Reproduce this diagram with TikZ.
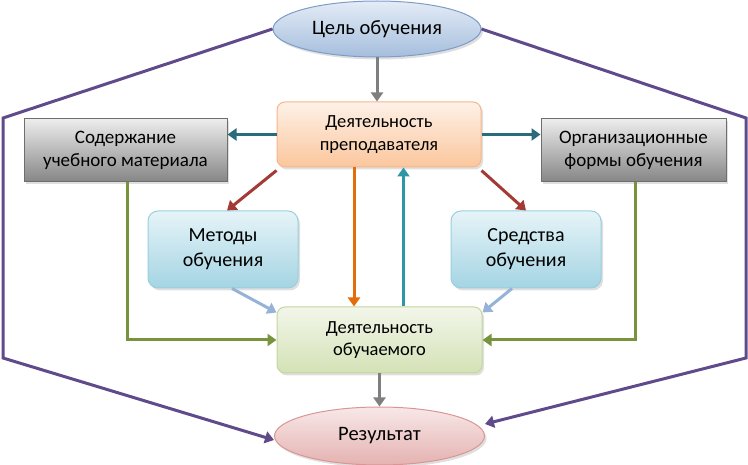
\documentclass[tikz,border=0pt]{standalone}
\usepackage{fontspec}
\setmainfont{Carlito}
\usetikzlibrary{arrows.meta,shadows,shapes.geometric}
\definecolor{purp}{HTML}{5F4B8B}
\definecolor{tealdk}{HTML}{2B6C7C}
\definecolor{teallt}{HTML}{2F96A3}
\definecolor{redk}{HTML}{A33A35}
\definecolor{orng}{HTML}{E46C0A}
\definecolor{ltblue}{HTML}{95B3D7}
\definecolor{grn}{HTML}{77933C}
\definecolor{gry}{HTML}{7F7F7F}
% fills
\definecolor{goalT}{HTML}{E4ECF6}\definecolor{goalB}{HTML}{A5BEDD}\definecolor{goalD}{HTML}{7E9CC8}
\definecolor{teaT}{HTML}{FEF1E8}\definecolor{teaB}{HTML}{FBC69C}\definecolor{teaD}{HTML}{F6B68A}
\definecolor{grT}{HTML}{EDEDED}\definecolor{grB}{HTML}{858585}\definecolor{grD}{HTML}{6E6E6E}
\definecolor{cyT}{HTML}{E6F4F8}\definecolor{cyB}{HTML}{A4D4E3}\definecolor{cyD}{HTML}{9ACFDD}
\definecolor{gnT}{HTML}{F2F6EA}\definecolor{gnB}{HTML}{D4E2B6}\definecolor{gnD}{HTML}{C3D69B}
\definecolor{rsT}{HTML}{F8E8E8}\definecolor{rsB}{HTML}{E4B2B1}\definecolor{rsD}{HTML}{D99694}
\tikzset{
  base/.style={align=center, inner sep=2pt, line width=1pt,
    drop shadow={opacity=0.25, shadow xshift=2pt, shadow yshift=-2.5pt}},
  fA/.style={font=\fontsize{20.5}{25}\selectfont},
  fB/.style={font=\fontsize{20}{25}\selectfont},
  fC/.style={font=\fontsize{19}{23}\selectfont},
  fD/.style={font=\fontsize{18.5}{22.5}\selectfont},
  conn/.style={line width=3pt, -{Triangle[length=9pt,width=12pt]}},
}
\begin{document}
\begin{tikzpicture}[x=1pt,y=-1pt]
\useasboundingbox (0,0) rectangle (748,465);
% nodes
\node[base, fA, ellipse, draw=goalD, top color=goalT, bottom color=goalB, minimum width=208pt, minimum height=56pt] (goal) at (377,29) {Цель обучения};
\node[base, fD, rectangle, rounded corners=8pt, draw=teaD, top color=teaT, bottom color=teaB, minimum width=204pt, minimum height=65pt] (teacher) at (379,134.5) {Деятельность\\преподавателя};
\node[base, fC, rectangle, draw=grD, top color=grT, bottom color=grB, minimum width=203pt, minimum height=63pt] (content) at (125.5,150.5) {Содержание\\учебного материала};
\node[base, fC, rectangle, draw=grD, top color=grT, bottom color=grB, minimum width=185pt, minimum height=63pt] (org) at (633.5,150.5) {Организационные\\формы обучения};
\node[base, fB, rectangle, rounded corners=10pt, draw=cyD, top color=cyT, bottom color=cyB, minimum width=150pt, minimum height=77pt] (methods) at (223,249.5) {Методы\\обучения};
\node[base, fB, rectangle, rounded corners=10pt, draw=cyD, top color=cyT, bottom color=cyB, minimum width=150pt, minimum height=77pt] (means) at (526,249.5) {Средства\\обучения};
\node[base, fD, rectangle, rounded corners=8pt, draw=gnD, top color=gnT, bottom color=gnB, minimum width=205pt, minimum height=66pt] (learner) at (379.5,340) {Деятельность\\обучаемого};
\node[base, fA, ellipse, draw=rsD, top color=rsT, bottom color=rsB, minimum width=210pt, minimum height=58pt] (result) at (379.5,436) {Результат};
% purple frame
\coordinate (pl1) at (3,118);
\coordinate (pl2) at (3,358);
\coordinate (pr1) at (746,118);
\coordinate (pr2) at (746,358);
\draw[conn, purp] (goal.west) -- (pl1) -- (pl2) -- ([yshift=-4pt]result.west);
\draw[conn, purp] (goal.east) -- (pr1) -- (pr2) -- ([yshift=12pt]result.east);
% connectors
\draw[conn, gry] (goal.south) -- (goal.south |- teacher.north);
\draw[conn, tealdk] (teacher.west) -- (teacher.west -| content.east);
\draw[conn, tealdk] (teacher.east) -- (teacher.east -| org.west);
\draw[conn, redk] ([yshift=-3pt]teacher.south west) -- ([xshift=4pt]methods.north);
\draw[conn, redk] ([yshift=-3pt]teacher.south east) -- (means.north);
\draw[conn, orng] ([xshift=-25pt]teacher.south) -- ([xshift=-25pt]teacher.south |- learner.north);
\draw[conn, teallt] ([xshift=24pt]learner.north) -- ([xshift=24pt]learner.north |- teacher.south);
\draw[conn, ltblue] ([xshift=9pt]methods.south) -- ([yshift=-6pt]learner.north west);
\draw[conn, ltblue] ([xshift=-14pt]means.south) -- ([yshift=-6pt]learner.north east);
\draw[conn, grn] ([xshift=2pt]content.south) |- (learner.west);
\draw[conn, grn] ([xshift=2pt]org.south) |- (learner.east);
\draw[conn, gry] (learner.south) -- (learner.south |- result.north);
\end{tikzpicture}
\end{document}
